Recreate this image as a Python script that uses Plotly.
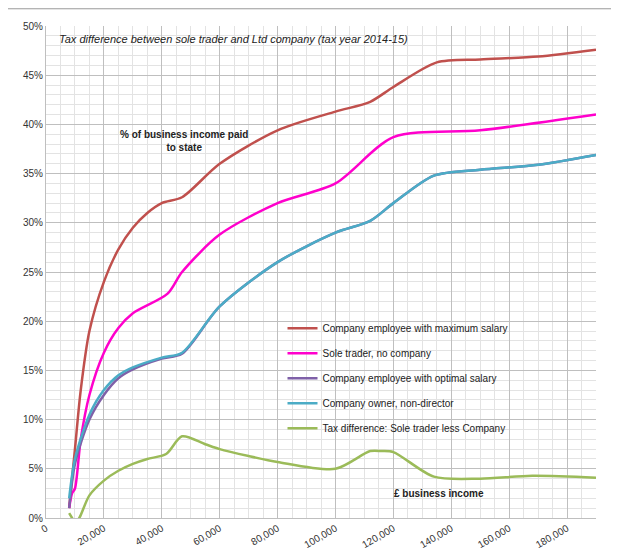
import plotly.graph_objects as go

red_x = [8000,10000,12000,15000,20000,25000,30000,35000,40000,47000,60000,80000,100000,112000,120000,135000,150000,170000,190000]
red_y = [1,7,13,19,24,27.3,29.5,31,32,32.6,36,39.4,41.3,42.3,43.8,46.3,46.6,46.9,47.6]
mag_x = [8000,9000,10000,12000,15000,20000,25000,30000,42000,47000,60000,80000,100000,120000,150000,190000]
mag_y = [1,2.5,3,8,12.5,16.8,19.3,20.8,22.8,25,28.8,32,34,38.7,39.4,41]
pur_x = [8000,10000,15000,20000,25000,30000,40000,47000,60000,80000,100000,112000,120000,134000,150000,170000,190000]
pur_y = [1,5.5,10,12.5,14.2,15.1,16.2,16.7,21.5,26,29,30.2,32,34.8,35.4,35.9,36.9]
blu_x = [8000,10000,15000,20000,25000,30000,40000,47000,60000,80000,100000,112000,120000,134000,150000,170000,190000]
blu_y = [2,6,10.5,13,14.5,15.3,16.3,16.8,21.5,26,29,30.2,32,34.8,35.4,35.9,36.9]
grn_x = [8000,9000,10000,11500,15000,20000,25000,30000,35000,41500,47000,55000,60000,70000,80000,100000,112000,116000,120000,134000,150000,168000,190000]
grn_y = [0.5,0,-0.5,0,2.3,3.8,4.8,5.5,6,6.5,8.3,7.5,7,6.3,5.7,5,6.8,6.8,6.7,4.2,4.0,4.3,4.1]

series = [
    ("Company employee with maximum salary", red_x, red_y, "#C0504D"),
    ("Sole trader, no company", mag_x, mag_y, "#FF00CC"),
    ("Company employee with optimal salary", pur_x, pur_y, "#7F60A8"),
    ("Company owner, non-director", blu_x, blu_y, "#4BACC6"),
    ("Tax difference: Sole trader less Company", grn_x, grn_y, "#9BBB59"),
]

fig = go.Figure()
for i, (name, x, y, c) in enumerate(series):
    fig.add_trace(go.Scatter(x=x, y=[v/100 for v in y], name=name, mode="lines", legendgroup=str(i),
                             line=dict(color=c, width=2.5, shape="spline", smoothing=0.8)))

grid = dict(showgrid=True, gridcolor="#BFBFBF", gridwidth=1,
            minor=dict(showgrid=True, gridcolor="#E3E3E3", gridwidth=1),
            showline=True, linecolor="#BFBFBF", zeroline=False,
            tickfont=dict(family="Liberation Sans", size=10, color="#333"))
fig.update_xaxes(range=[0, 190000], dtick=20000, tickformat=",", tickangle=-30,
                 minor_dtick=5000, **grid)
fig.update_yaxes(range=[0, 0.5], dtick=0.05, tickformat=".0%", minor_dtick=0.01, **grid)

fig.update_layout(
    width=619, height=557, paper_bgcolor="white", plot_bgcolor="white",
    margin=dict(l=38, r=31, t=18, b=47),
    font=dict(family="Liberation Sans", size=10, color="#222"),
    legend=dict(x=0.43, y=0.415, xanchor="left", yanchor="top", bgcolor="rgba(0,0,0,0)",
                font=dict(size=10), tracegroupgap=6, itemwidth=30, traceorder="grouped"),
    annotations=[
        dict(text="<i>Tax difference between sole trader and Ltd company (tax year 2014-15)</i>",
             x=0.02, y=0.99, xref="paper", yref="paper", xanchor="left", yanchor="top",
             showarrow=False, font=dict(size=11)),
        dict(text="<b>% of business income paid<br>to state</b>", x=0.13, y=0.795, xref="paper", yref="paper",
             showarrow=False, font=dict(size=10), align="center"),
        dict(text="<b>£ business income</b>", x=0.8, y=0.035, xref="paper", yref="paper",
             showarrow=False, font=dict(size=10)),
    ],
    shapes=[dict(type="rect", xref="paper", yref="paper", x0=-0.07, x1=1.055, y0=-0.095, y1=1.035,
                 line=dict(color="#999", width=1))],
)
fig.write_html("out.html")
